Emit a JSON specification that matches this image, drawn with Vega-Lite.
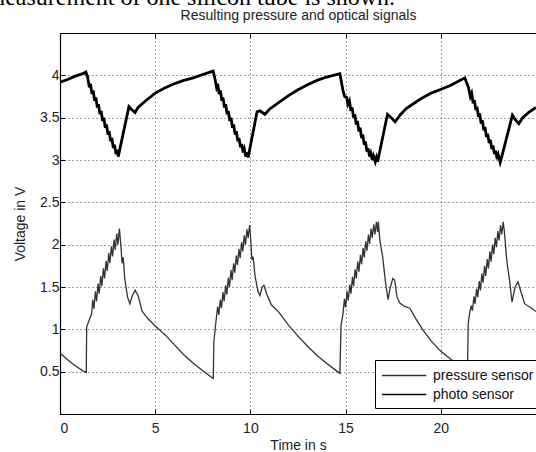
{
"$schema":"https://vega.github.io/schema/vega-lite/v6.json",
"width":476,"height":381,
"autosize":{"type":"none"},
"padding":{"left":60,"top":33,"right":0,"bottom":38},
"background":"white",
"view":{"stroke":null},
"config":{
"axis":{"labelFont":"Liberation Sans","labelFontSize":14,"labelColor":"#222","titleFont":"Liberation Sans","titleFontSize":14,"titleFontWeight":"normal","titleColor":"#222","domainColor":"#000","domainWidth":1.2,"tickColor":"#000","tickSize":-5,"gridColor":"#222","gridDash":[1,3],"gridWidth":1,"gridOpacity":0.85}
},
"layer":[
{"data":{"values":[
{"t":0,"v":0.72,"s":"pressure sensor"},{"t":0.4,"v":0.64,"s":"pressure sensor"},{"t":0.8,"v":0.57,"s":"pressure sensor"},{"t":1.2,"v":0.51,"s":"pressure sensor"},{"t":1.38,"v":0.49,"s":"pressure sensor"},{"t":1.4,"v":1.03,"s":"pressure sensor"},{"t":1.55,"v":1.12,"s":"pressure sensor"},{"t":1.66,"v":1.18,"s":"pressure sensor"},{"t":1.72,"v":1.35,"s":"pressure sensor"},{"t":1.78,"v":1.24,"s":"pressure sensor"},{"t":1.86,"v":1.45,"s":"pressure sensor"},{"t":1.92,"v":1.33,"s":"pressure sensor"},{"t":2.0,"v":1.54,"s":"pressure sensor"},{"t":2.06,"v":1.42,"s":"pressure sensor"},{"t":2.14,"v":1.63,"s":"pressure sensor"},{"t":2.2,"v":1.51,"s":"pressure sensor"},{"t":2.28,"v":1.72,"s":"pressure sensor"},{"t":2.34,"v":1.6,"s":"pressure sensor"},{"t":2.42,"v":1.81,"s":"pressure sensor"},{"t":2.48,"v":1.69,"s":"pressure sensor"},{"t":2.56,"v":1.9,"s":"pressure sensor"},{"t":2.62,"v":1.78,"s":"pressure sensor"},{"t":2.7,"v":1.98,"s":"pressure sensor"},{"t":2.76,"v":1.86,"s":"pressure sensor"},{"t":2.84,"v":2.06,"s":"pressure sensor"},{"t":2.9,"v":1.94,"s":"pressure sensor"},{"t":2.98,"v":2.13,"s":"pressure sensor"},{"t":3.04,"v":2.0,"s":"pressure sensor"},{"t":3.12,"v":2.19,"s":"pressure sensor"},{"t":3.2,"v":1.98,"s":"pressure sensor"},{"t":3.26,"v":1.78,"s":"pressure sensor"},{"t":3.32,"v":1.85,"s":"pressure sensor"},{"t":3.4,"v":1.6,"s":"pressure sensor"},{"t":3.55,"v":1.38,"s":"pressure sensor"},{"t":3.67,"v":1.3,"s":"pressure sensor"},{"t":3.8,"v":1.4,"s":"pressure sensor"},{"t":3.95,"v":1.46,"s":"pressure sensor"},{"t":4.1,"v":1.4,"s":"pressure sensor"},{"t":4.3,"v":1.22,"s":"pressure sensor"},{"t":4.6,"v":1.13,"s":"pressure sensor"},{"t":5.0,"v":1.04,"s":"pressure sensor"},{"t":5.5,"v":0.94,"s":"pressure sensor"},{"t":6.0,"v":0.82,"s":"pressure sensor"},{"t":6.5,"v":0.7,"s":"pressure sensor"},{"t":7.0,"v":0.6,"s":"pressure sensor"},{"t":7.5,"v":0.51,"s":"pressure sensor"},{"t":8.05,"v":0.42,"s":"pressure sensor"},{"t":8.08,"v":0.85,"s":"pressure sensor"},{"t":8.2,"v":1.11,"s":"pressure sensor"},{"t":8.28,"v":1.27,"s":"pressure sensor"},{"t":8.34,"v":1.17,"s":"pressure sensor"},{"t":8.42,"v":1.35,"s":"pressure sensor"},{"t":8.48,"v":1.25,"s":"pressure sensor"},{"t":8.56,"v":1.44,"s":"pressure sensor"},{"t":8.62,"v":1.33,"s":"pressure sensor"},{"t":8.7,"v":1.52,"s":"pressure sensor"},{"t":8.76,"v":1.41,"s":"pressure sensor"},{"t":8.84,"v":1.61,"s":"pressure sensor"},{"t":8.9,"v":1.5,"s":"pressure sensor"},{"t":8.98,"v":1.7,"s":"pressure sensor"},{"t":9.04,"v":1.58,"s":"pressure sensor"},{"t":9.12,"v":1.78,"s":"pressure sensor"},{"t":9.18,"v":1.67,"s":"pressure sensor"},{"t":9.26,"v":1.87,"s":"pressure sensor"},{"t":9.32,"v":1.76,"s":"pressure sensor"},{"t":9.4,"v":1.95,"s":"pressure sensor"},{"t":9.46,"v":1.84,"s":"pressure sensor"},{"t":9.54,"v":2.03,"s":"pressure sensor"},{"t":9.6,"v":1.92,"s":"pressure sensor"},{"t":9.68,"v":2.11,"s":"pressure sensor"},{"t":9.74,"v":2.0,"s":"pressure sensor"},{"t":9.82,"v":2.18,"s":"pressure sensor"},{"t":9.88,"v":2.08,"s":"pressure sensor"},{"t":9.96,"v":2.23,"s":"pressure sensor"},{"t":10.02,"v":2.05,"s":"pressure sensor"},{"t":10.08,"v":1.82,"s":"pressure sensor"},{"t":10.14,"v":1.86,"s":"pressure sensor"},{"t":10.25,"v":1.62,"s":"pressure sensor"},{"t":10.4,"v":1.45,"s":"pressure sensor"},{"t":10.5,"v":1.4,"s":"pressure sensor"},{"t":10.62,"v":1.5,"s":"pressure sensor"},{"t":10.71,"v":1.52,"s":"pressure sensor"},{"t":10.85,"v":1.42,"s":"pressure sensor"},{"t":11.1,"v":1.29,"s":"pressure sensor"},{"t":11.5,"v":1.2,"s":"pressure sensor"},{"t":12.0,"v":1.05,"s":"pressure sensor"},{"t":12.5,"v":0.92,"s":"pressure sensor"},{"t":13.0,"v":0.8,"s":"pressure sensor"},{"t":13.5,"v":0.69,"s":"pressure sensor"},{"t":14.0,"v":0.6,"s":"pressure sensor"},{"t":14.4,"v":0.53,"s":"pressure sensor"},{"t":14.7,"v":0.48,"s":"pressure sensor"},{"t":14.76,"v":1.05,"s":"pressure sensor"},{"t":14.86,"v":1.18,"s":"pressure sensor"},{"t":14.94,"v":1.36,"s":"pressure sensor"},{"t":15.0,"v":1.26,"s":"pressure sensor"},{"t":15.08,"v":1.45,"s":"pressure sensor"},{"t":15.14,"v":1.34,"s":"pressure sensor"},{"t":15.22,"v":1.53,"s":"pressure sensor"},{"t":15.28,"v":1.42,"s":"pressure sensor"},{"t":15.36,"v":1.62,"s":"pressure sensor"},{"t":15.42,"v":1.51,"s":"pressure sensor"},{"t":15.5,"v":1.71,"s":"pressure sensor"},{"t":15.56,"v":1.6,"s":"pressure sensor"},{"t":15.64,"v":1.8,"s":"pressure sensor"},{"t":15.7,"v":1.68,"s":"pressure sensor"},{"t":15.78,"v":1.88,"s":"pressure sensor"},{"t":15.84,"v":1.77,"s":"pressure sensor"},{"t":15.92,"v":1.96,"s":"pressure sensor"},{"t":15.98,"v":1.85,"s":"pressure sensor"},{"t":16.06,"v":2.04,"s":"pressure sensor"},{"t":16.12,"v":1.93,"s":"pressure sensor"},{"t":16.2,"v":2.12,"s":"pressure sensor"},{"t":16.26,"v":2.01,"s":"pressure sensor"},{"t":16.34,"v":2.19,"s":"pressure sensor"},{"t":16.4,"v":2.08,"s":"pressure sensor"},{"t":16.48,"v":2.24,"s":"pressure sensor"},{"t":16.54,"v":2.12,"s":"pressure sensor"},{"t":16.62,"v":2.27,"s":"pressure sensor"},{"t":16.68,"v":2.15,"s":"pressure sensor"},{"t":16.72,"v":2.27,"s":"pressure sensor"},{"t":16.8,"v":2.05,"s":"pressure sensor"},{"t":16.95,"v":1.85,"s":"pressure sensor"},{"t":17.1,"v":1.55,"s":"pressure sensor"},{"t":17.23,"v":1.35,"s":"pressure sensor"},{"t":17.35,"v":1.5,"s":"pressure sensor"},{"t":17.48,"v":1.6,"s":"pressure sensor"},{"t":17.58,"v":1.58,"s":"pressure sensor"},{"t":17.7,"v":1.38,"s":"pressure sensor"},{"t":17.85,"v":1.31,"s":"pressure sensor"},{"t":18.1,"v":1.27,"s":"pressure sensor"},{"t":18.37,"v":1.25,"s":"pressure sensor"},{"t":18.7,"v":1.12,"s":"pressure sensor"},{"t":19.07,"v":0.99,"s":"pressure sensor"},{"t":19.5,"v":0.86,"s":"pressure sensor"},{"t":20.0,"v":0.74,"s":"pressure sensor"},{"t":20.56,"v":0.64,"s":"pressure sensor"},{"t":21.0,"v":0.55,"s":"pressure sensor"},{"t":21.4,"v":0.47,"s":"pressure sensor"},{"t":21.44,"v":1.07,"s":"pressure sensor"},{"t":21.52,"v":1.2,"s":"pressure sensor"},{"t":21.6,"v":1.28,"s":"pressure sensor"},{"t":21.66,"v":1.22,"s":"pressure sensor"},{"t":21.74,"v":1.39,"s":"pressure sensor"},{"t":21.8,"v":1.3,"s":"pressure sensor"},{"t":21.88,"v":1.48,"s":"pressure sensor"},{"t":21.94,"v":1.38,"s":"pressure sensor"},{"t":22.02,"v":1.57,"s":"pressure sensor"},{"t":22.08,"v":1.46,"s":"pressure sensor"},{"t":22.16,"v":1.66,"s":"pressure sensor"},{"t":22.22,"v":1.55,"s":"pressure sensor"},{"t":22.3,"v":1.75,"s":"pressure sensor"},{"t":22.36,"v":1.63,"s":"pressure sensor"},{"t":22.44,"v":1.83,"s":"pressure sensor"},{"t":22.5,"v":1.72,"s":"pressure sensor"},{"t":22.58,"v":1.92,"s":"pressure sensor"},{"t":22.64,"v":1.8,"s":"pressure sensor"},{"t":22.72,"v":2.0,"s":"pressure sensor"},{"t":22.78,"v":1.89,"s":"pressure sensor"},{"t":22.86,"v":2.08,"s":"pressure sensor"},{"t":22.92,"v":1.97,"s":"pressure sensor"},{"t":23.0,"v":2.16,"s":"pressure sensor"},{"t":23.06,"v":2.05,"s":"pressure sensor"},{"t":23.14,"v":2.23,"s":"pressure sensor"},{"t":23.2,"v":2.12,"s":"pressure sensor"},{"t":23.28,"v":2.27,"s":"pressure sensor"},{"t":23.34,"v":2.15,"s":"pressure sensor"},{"t":23.45,"v":1.85,"s":"pressure sensor"},{"t":23.52,"v":1.72,"s":"pressure sensor"},{"t":23.6,"v":1.6,"s":"pressure sensor"},{"t":23.74,"v":1.32,"s":"pressure sensor"},{"t":23.9,"v":1.5,"s":"pressure sensor"},{"t":24.06,"v":1.56,"s":"pressure sensor"},{"t":24.2,"v":1.45,"s":"pressure sensor"},{"t":24.41,"v":1.3,"s":"pressure sensor"},{"t":24.7,"v":1.26,"s":"pressure sensor"},{"t":25.0,"v":1.21,"s":"pressure sensor"},
{"t":0,"v":3.92,"s":"photo sensor"},{"t":0.4,"v":3.95,"s":"photo sensor"},{"t":0.8,"v":3.99,"s":"photo sensor"},{"t":1.2,"v":4.02,"s":"photo sensor"},{"t":1.36,"v":4.04,"s":"photo sensor"},{"t":1.45,"v":3.98,"s":"photo sensor"},{"t":1.54,"v":3.86,"s":"photo sensor"},{"t":1.6,"v":3.9,"s":"photo sensor"},{"t":1.68,"v":3.78,"s":"photo sensor"},{"t":1.74,"v":3.82,"s":"photo sensor"},{"t":1.82,"v":3.7,"s":"photo sensor"},{"t":1.88,"v":3.74,"s":"photo sensor"},{"t":1.96,"v":3.62,"s":"photo sensor"},{"t":2.02,"v":3.66,"s":"photo sensor"},{"t":2.1,"v":3.54,"s":"photo sensor"},{"t":2.16,"v":3.58,"s":"photo sensor"},{"t":2.24,"v":3.46,"s":"photo sensor"},{"t":2.3,"v":3.5,"s":"photo sensor"},{"t":2.38,"v":3.38,"s":"photo sensor"},{"t":2.44,"v":3.42,"s":"photo sensor"},{"t":2.52,"v":3.3,"s":"photo sensor"},{"t":2.58,"v":3.34,"s":"photo sensor"},{"t":2.66,"v":3.22,"s":"photo sensor"},{"t":2.72,"v":3.26,"s":"photo sensor"},{"t":2.8,"v":3.14,"s":"photo sensor"},{"t":2.86,"v":3.18,"s":"photo sensor"},{"t":2.94,"v":3.07,"s":"photo sensor"},{"t":3.0,"v":3.12,"s":"photo sensor"},{"t":3.06,"v":3.04,"s":"photo sensor"},{"t":3.62,"v":3.63,"s":"photo sensor"},{"t":3.75,"v":3.6,"s":"photo sensor"},{"t":3.94,"v":3.56,"s":"photo sensor"},{"t":4.1,"v":3.62,"s":"photo sensor"},{"t":4.5,"v":3.7,"s":"photo sensor"},{"t":5.0,"v":3.79,"s":"photo sensor"},{"t":5.5,"v":3.85,"s":"photo sensor"},{"t":6.0,"v":3.9,"s":"photo sensor"},{"t":6.5,"v":3.94,"s":"photo sensor"},{"t":7.0,"v":3.97,"s":"photo sensor"},{"t":7.5,"v":4.01,"s":"photo sensor"},{"t":8.04,"v":4.05,"s":"photo sensor"},{"t":8.12,"v":3.98,"s":"photo sensor"},{"t":8.22,"v":3.86,"s":"photo sensor"},{"t":8.28,"v":3.9,"s":"photo sensor"},{"t":8.36,"v":3.78,"s":"photo sensor"},{"t":8.42,"v":3.82,"s":"photo sensor"},{"t":8.5,"v":3.7,"s":"photo sensor"},{"t":8.56,"v":3.74,"s":"photo sensor"},{"t":8.64,"v":3.62,"s":"photo sensor"},{"t":8.7,"v":3.66,"s":"photo sensor"},{"t":8.78,"v":3.54,"s":"photo sensor"},{"t":8.84,"v":3.58,"s":"photo sensor"},{"t":8.92,"v":3.46,"s":"photo sensor"},{"t":8.98,"v":3.5,"s":"photo sensor"},{"t":9.06,"v":3.38,"s":"photo sensor"},{"t":9.12,"v":3.42,"s":"photo sensor"},{"t":9.2,"v":3.3,"s":"photo sensor"},{"t":9.26,"v":3.34,"s":"photo sensor"},{"t":9.34,"v":3.22,"s":"photo sensor"},{"t":9.4,"v":3.26,"s":"photo sensor"},{"t":9.48,"v":3.15,"s":"photo sensor"},{"t":9.54,"v":3.19,"s":"photo sensor"},{"t":9.62,"v":3.09,"s":"photo sensor"},{"t":9.68,"v":3.13,"s":"photo sensor"},{"t":9.76,"v":3.04,"s":"photo sensor"},{"t":9.82,"v":3.09,"s":"photo sensor"},{"t":9.88,"v":3.03,"s":"photo sensor"},{"t":10.35,"v":3.57,"s":"photo sensor"},{"t":10.5,"v":3.58,"s":"photo sensor"},{"t":10.76,"v":3.54,"s":"photo sensor"},{"t":11.0,"v":3.6,"s":"photo sensor"},{"t":11.5,"v":3.68,"s":"photo sensor"},{"t":12.0,"v":3.76,"s":"photo sensor"},{"t":12.5,"v":3.83,"s":"photo sensor"},{"t":13.0,"v":3.89,"s":"photo sensor"},{"t":13.5,"v":3.94,"s":"photo sensor"},{"t":14.0,"v":3.98,"s":"photo sensor"},{"t":14.7,"v":4.02,"s":"photo sensor"},{"t":14.78,"v":3.92,"s":"photo sensor"},{"t":14.88,"v":3.8,"s":"photo sensor"},{"t":14.95,"v":3.75,"s":"photo sensor"},{"t":15.05,"v":3.74,"s":"photo sensor"},{"t":15.12,"v":3.66,"s":"photo sensor"},{"t":15.2,"v":3.7,"s":"photo sensor"},{"t":15.28,"v":3.58,"s":"photo sensor"},{"t":15.34,"v":3.62,"s":"photo sensor"},{"t":15.42,"v":3.5,"s":"photo sensor"},{"t":15.48,"v":3.54,"s":"photo sensor"},{"t":15.56,"v":3.42,"s":"photo sensor"},{"t":15.62,"v":3.46,"s":"photo sensor"},{"t":15.7,"v":3.34,"s":"photo sensor"},{"t":15.76,"v":3.38,"s":"photo sensor"},{"t":15.84,"v":3.26,"s":"photo sensor"},{"t":15.9,"v":3.3,"s":"photo sensor"},{"t":15.98,"v":3.18,"s":"photo sensor"},{"t":16.04,"v":3.22,"s":"photo sensor"},{"t":16.12,"v":3.1,"s":"photo sensor"},{"t":16.18,"v":3.14,"s":"photo sensor"},{"t":16.26,"v":3.04,"s":"photo sensor"},{"t":16.32,"v":3.08,"s":"photo sensor"},{"t":16.4,"v":3.0,"s":"photo sensor"},{"t":16.46,"v":3.05,"s":"photo sensor"},{"t":16.56,"v":2.98,"s":"photo sensor"},{"t":16.62,"v":3.03,"s":"photo sensor"},{"t":16.68,"v":2.98,"s":"photo sensor"},{"t":17.2,"v":3.54,"s":"photo sensor"},{"t":17.4,"v":3.5,"s":"photo sensor"},{"t":17.6,"v":3.45,"s":"photo sensor"},{"t":17.9,"v":3.54,"s":"photo sensor"},{"t":18.2,"v":3.61,"s":"photo sensor"},{"t":18.6,"v":3.67,"s":"photo sensor"},{"t":19.0,"v":3.73,"s":"photo sensor"},{"t":19.5,"v":3.79,"s":"photo sensor"},{"t":19.95,"v":3.83,"s":"photo sensor"},{"t":20.5,"v":3.88,"s":"photo sensor"},{"t":21.0,"v":3.94,"s":"photo sensor"},{"t":21.26,"v":3.97,"s":"photo sensor"},{"t":21.34,"v":3.92,"s":"photo sensor"},{"t":21.45,"v":3.86,"s":"photo sensor"},{"t":21.55,"v":3.75,"s":"photo sensor"},{"t":21.62,"v":3.79,"s":"photo sensor"},{"t":21.7,"v":3.67,"s":"photo sensor"},{"t":21.76,"v":3.71,"s":"photo sensor"},{"t":21.84,"v":3.59,"s":"photo sensor"},{"t":21.9,"v":3.63,"s":"photo sensor"},{"t":21.98,"v":3.51,"s":"photo sensor"},{"t":22.04,"v":3.55,"s":"photo sensor"},{"t":22.12,"v":3.43,"s":"photo sensor"},{"t":22.18,"v":3.47,"s":"photo sensor"},{"t":22.26,"v":3.35,"s":"photo sensor"},{"t":22.32,"v":3.39,"s":"photo sensor"},{"t":22.4,"v":3.27,"s":"photo sensor"},{"t":22.46,"v":3.31,"s":"photo sensor"},{"t":22.54,"v":3.2,"s":"photo sensor"},{"t":22.6,"v":3.24,"s":"photo sensor"},{"t":22.68,"v":3.13,"s":"photo sensor"},{"t":22.74,"v":3.17,"s":"photo sensor"},{"t":22.82,"v":3.07,"s":"photo sensor"},{"t":22.88,"v":3.11,"s":"photo sensor"},{"t":22.96,"v":3.01,"s":"photo sensor"},{"t":23.02,"v":3.06,"s":"photo sensor"},{"t":23.12,"v":2.97,"s":"photo sensor"},{"t":23.18,"v":3.02,"s":"photo sensor"},{"t":23.76,"v":3.53,"s":"photo sensor"},{"t":23.9,"v":3.48,"s":"photo sensor"},{"t":24.1,"v":3.43,"s":"photo sensor"},{"t":24.3,"v":3.5,"s":"photo sensor"},{"t":24.6,"v":3.56,"s":"photo sensor"},{"t":25.0,"v":3.62,"s":"photo sensor"}
]},
"mark":{"type":"line","clip":true,"interpolate":"linear","strokeJoin":"miter"},
"encoding":{
"x":{"field":"t","type":"quantitative","scale":{"domain":[0,25],"nice":false,"zero":false},"axis":{"title":"Time in s","values":[0,5,10,15,20],"format":"d","labelPadding":12,"titlePadding":3,"grid":true}},
"y":{"field":"v","type":"quantitative","scale":{"domain":[0,4.5],"nice":false},"axis":{"title":"Voltage in V","values":[0.5,1,1.5,2,2.5,3,3.5,4],"format":".1~f","labelPadding":6,"titlePadding":12,"grid":true}},
"color":{"field":"s","type":"nominal","scale":{"domain":["pressure sensor","photo sensor"],"range":["#333333","#000000"]},"legend":{"orient":"none","legendX":315,"legendY":327,"title":null,"fillColor":"white","strokeColor":"#000","padding":6,"symbolType":"M-1,0L4.2,0","symbolSize":289,"symbolStrokeWidth":1.4,"labelFont":"Liberation Sans","labelFontSize":14,"labelColor":"#111","labelOffset":33,"rowPadding":2}},
"strokeWidth":{"condition":{"test":"datum.s === 'photo sensor'","value":2.8},"value":1.3},
"order":{"field":"t","type":"quantitative"}
}},
{"data":{"values":[{}]},
"mark":{"type":"text","text":"measurement of one silicon tube is shown.","font":"Liberation Serif","fontSize":24,"align":"right","baseline":"alphabetic","color":"#000"},
"encoding":{
"x":{"datum":17.6,"type":"quantitative","axis":{"orient":"top","labels":false,"title":"Resulting pressure and optical signals","titlePadding":10,"grid":false,"values":[5,10,15,20],"domain":true}},
"y":{"datum":4.835,"type":"quantitative","axis":null}
}}
],
"resolve":{"axis":{"x":"independent","y":"independent"}}
}
